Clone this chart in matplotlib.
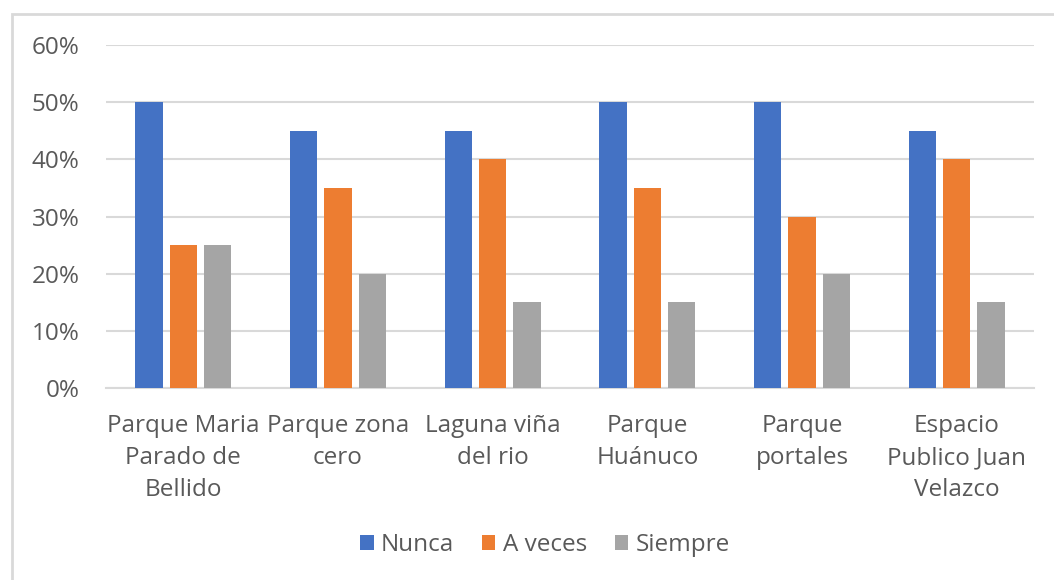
import matplotlib
matplotlib.use("Agg")
import matplotlib.pyplot as plt
import numpy as np
from matplotlib.patches import Rectangle

categories = ["Parque Maria\nParado de\nBellido", "Parque zona\ncero", "Laguna viña\ndel rio",
              "Parque\nHuánuco", "Parque\nportales", "Espacio\nPublico Juan\nVelazco"]
nunca = [50, 45, 45, 50, 50, 45]
a_veces = [25, 35, 40, 35, 30, 40]
siempre = [25, 20, 15, 15, 20, 15]
series_names = ["Nunca", "A veces", "Siempre"]
colors = ["#4472C4", "#ED7D31", "#A5A5A5"]
yticks = [0, 10, 20, 30, 40, 50, 60]

plt.rcParams['font.family'] = ['Open Sans', 'DejaVu Sans']
text_color = "#595959"
fs = 17.5

fig = plt.figure(figsize=(10.54, 5.80), dpi=100)
ax = fig.add_axes([106/1054, 1-388/580, (1034-106)/1054, (388-45)/580])

x = np.arange(len(categories))
w = 0.175
step = 0.222
for i, (vals, name, c) in enumerate(zip([nunca, a_veces, siempre], series_names, colors)):
    ax.bar(x + (i-1)*step, vals, width=w, color=c, label=name, zorder=3)

ax.set_xlim(-0.5, len(categories)-0.5)
ax.set_ylim(0, 60)
ax.set_yticks(yticks)
ax.set_yticklabels([f"{v}%" for v in yticks], fontsize=fs, color=text_color)
ax.set_xticks(x)
ax.set_xticklabels(categories, fontsize=fs, color=text_color, linespacing=1.42)
ax.tick_params(axis='both', length=0)
ax.tick_params(axis='y', pad=19)
ax.tick_params(axis='x', pad=19)
ax.grid(axis='y', color="#D9D9D9", linewidth=1.5, zorder=0)
for s in ["top", "right", "left"]:
    ax.spines[s].set_visible(False)
ax.spines["bottom"].set_color("#D9D9D9")
ax.spines["bottom"].set_linewidth(1.5)

leg = fig.legend(loc="center", bbox_to_anchor=(545/1054, 1-545/580), ncol=3, frameon=False,
                 fontsize=fs, handlelength=0.55, handleheight=0.55, handletextpad=0.3, columnspacing=1.15)
for t in leg.get_texts():
    t.set_color(text_color)

fig.patches.append(Rectangle((12/1054, -0.1), 1.2, 0.9759 + 0.1, transform=fig.transFigure,
                             fill=False, edgecolor="#D9D9D9", linewidth=2))

fig.savefig("out.png", dpi=100)
